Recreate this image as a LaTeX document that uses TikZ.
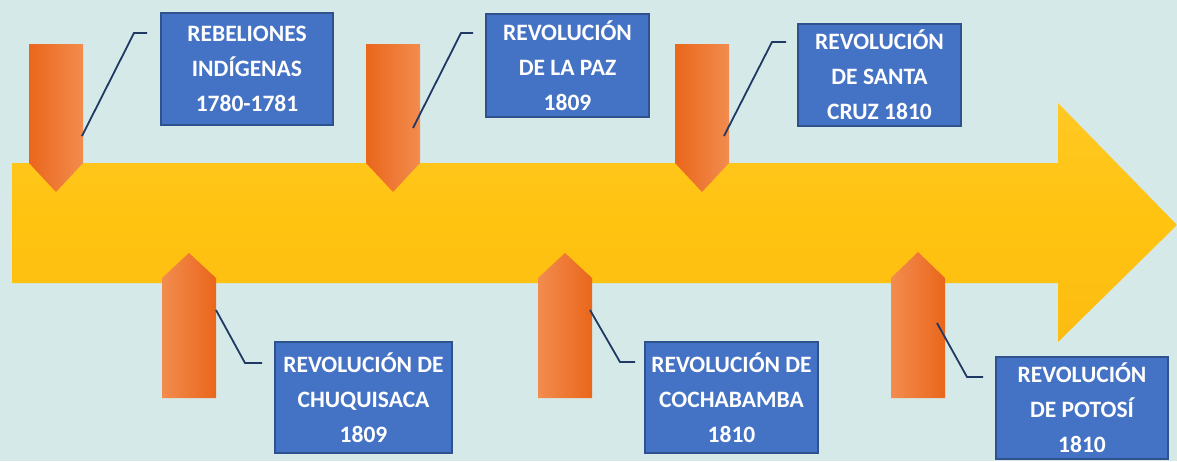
\documentclass[tikz,border=0pt]{standalone}
\usepackage{fontspec}
\setmainfont{Carlito}
\definecolor{bgc}{HTML}{D5EAE8}
\definecolor{boxblue}{HTML}{4472C4}
\definecolor{boxedge}{HTML}{2F528F}
\definecolor{linec}{HTML}{203864}
\definecolor{orgdark}{HTML}{EA661B}
\definecolor{orglight}{HTML}{F28C4E}
\definecolor{yelltop}{HTML}{FFC823}
\definecolor{yellmid}{HTML}{FFC310}
\definecolor{yellbot}{HTML}{FCBC12}
\begin{document}
\begin{tikzpicture}[x=1pt,y=-1pt,
  evbox/.style={draw=boxedge, fill=boxblue, line width=1.3pt, text=white,
    font=\bfseries\fontsize{23.5}{35}\selectfont, align=center, inner sep=0pt},
  downarr/.style={left color=orgdark, right color=orglight},
  uparr/.style={left color=orglight, right color=orgdark},
  conn/.style={draw=linec, line width=1.8pt}]
\useasboundingbox[fill=bgc] (0,0) rectangle (1177,461);
% main timeline arrow
\shade[top color=yelltop, bottom color=yellbot, middle color=yellmid]
  (12,163) -- (1058,163) -- (1058,103) -- (1177,225) -- (1058,342) -- (1058,283) -- (12,283) -- cycle;
% down arrows (top)
\shade[downarr] (29,44) -- (83,44) -- (83,163) -- (56,192) -- (29,163) -- cycle;
\shade[downarr] (366,44) -- (420,44) -- (420,163) -- (393,192) -- (366,163) -- cycle;
\shade[downarr] (675,44) -- (729,44) -- (729,163) -- (702,192) -- (675,163) -- cycle;
% up arrows (bottom)
\shade[uparr] (162,398) -- (162,278) -- (189,253) -- (216,278) -- (216,398) -- cycle;
\shade[uparr] (538,398) -- (538,278) -- (565,253) -- (592,278) -- (592,398) -- cycle;
\shade[uparr] (891,398) -- (891,278) -- (918,252) -- (945,278) -- (945,398) -- cycle;
% boxes
\node[evbox, minimum width=172, minimum height=112] (b1) at (247,69) {REBELIONES\\IND\'IGENAS\\1780-1781};
\node[evbox, minimum width=163, minimum height=103] (b2) at (567.5,65.5) {REVOLUCI\'ON\\DE LA PAZ\\1809};
\node[evbox, minimum width=163, minimum height=102] (b3) at (879.5,75) {REVOLUCI\'ON\\DE SANTA\\CRUZ 1810};
\node[evbox, minimum width=177, minimum height=111] (b4) at (363.5,397.5) {REVOLUCI\'ON DE\\CHUQUISACA\\1809};
\node[evbox, minimum width=173, minimum height=111] (b5) at (731.5,397.5) {REVOLUCI\'ON DE\\COCHABAMBA\\1810};
\node[evbox, minimum width=172, minimum height=102] (b6) at (1082,408) {REVOLUCI\'ON\\DE POTOS\'I\\1810};
% connectors
\coordinate (a1) at (82,136); \coordinate (k1) at (134,33); \coordinate (e1) at (147,33);
\coordinate (a2) at (413,128); \coordinate (k2) at (461,33); \coordinate (e2) at (473,33);
\coordinate (a3) at (724,136); \coordinate (k3) at (772,42); \coordinate (e3) at (786,42);
\coordinate (a4) at (216,310); \coordinate (k4) at (245,363); \coordinate (e4) at (262,363);
\coordinate (a5) at (590,310); \coordinate (k5) at (620,362); \coordinate (e5) at (635,362);
\coordinate (a6) at (937,323); \coordinate (k6) at (967,377); \coordinate (e6) at (983,377);
\draw[conn] (a1) -- (k1) -- (e1);
\draw[conn] (a2) -- (k2) -- (e2);
\draw[conn] (a3) -- (k3) -- (e3);
\draw[conn] (a4) -- (k4) -- (e4);
\draw[conn] (a5) -- (k5) -- (e5);
\draw[conn] (a6) -- (k6) -- (e6);
\end{tikzpicture}
\end{document}
